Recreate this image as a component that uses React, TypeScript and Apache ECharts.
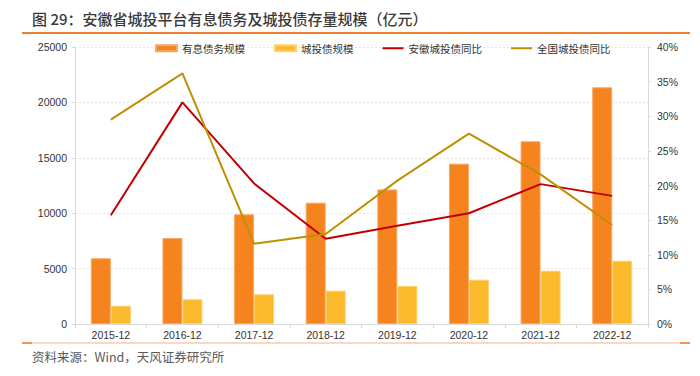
import React, { useEffect, useRef } from "react";
import * as echarts from "echarts";

const categories = ["2015-12", "2016-12", "2017-12", "2018-12", "2019-12", "2020-12", "2021-12", "2022-12"];
const interestDebt = [5930, 7760, 9900, 10950, 12150, 14470, 16490, 21360];
const urbanBond = [1650, 2230, 2680, 3010, 3430, 4000, 4810, 5710];
const anhuiYoY = [15.7, 32.0, 20.3, 12.3, 14.2, 16.0, 20.2, 18.5];
const nationalYoY = [29.5, 36.2, 11.6, 13.0, 20.7, 27.5, 21.6, 14.3];

const titleText = "图 29：安徽省城投平台有息债务及城投债存量规模（亿元）";
const sourceText = "资料来源：Wind，天风证券研究所";
const seriesNames = ["有息债务规模", "城投债规模", "安徽城投债同比", "全国城投债同比"];

const FONT = "'Liberation Sans', Arial, 'Noto Sans CJK SC', sans-serif";
const CJK = "'Noto Sans CJK SC', 'Liberation Sans', sans-serif";
const LINE_ICON = "path://M0,0L21,0L21,0.01Z M0,2L21,2L21,4L0,4Z M0,6L21,6L21,5.99Z";

export default function App() {
  const ref = useRef<HTMLDivElement>(null);
  useEffect(() => {
    if (!ref.current) return;
    const chart = echarts.init(ref.current, undefined, { renderer: "svg" });
    const axisGray = "#D9D9D9";
    chart.setOption({
      animation: false,
      backgroundColor: "#ffffff",
      textStyle: { fontFamily: FONT },
      grid: { left: 75, right: 52, top: 47, bottom: 52 },
      legend: {
        left: 150,
        top: 38,
        itemGap: 29,
        itemWidth: 21,
        itemHeight: 6,
        textStyle: { fontSize: 10.5, color: "#333", fontFamily: CJK },
        data: [
          { name: seriesNames[0], icon: "rect" },
          { name: seriesNames[1], icon: "rect" },
          { name: seriesNames[2], icon: LINE_ICON },
          { name: seriesNames[3], icon: LINE_ICON },
        ],
      },
      xAxis: {
        type: "category",
        data: categories,
        axisLine: { lineStyle: { color: axisGray } },
        axisTick: { show: true, length: 4, lineStyle: { color: axisGray } },
        axisLabel: { color: "#333", fontSize: 10.5, margin: 6, fontFamily: FONT },
      },
      yAxis: [
        {
          type: "value",
          min: 0,
          max: 25000,
          interval: 5000,
          axisLine: { show: true, lineStyle: { color: axisGray } },
          axisTick: { show: true, length: 3, lineStyle: { color: axisGray } },
          axisLabel: {
            color: "#333",
            fontSize: 10.5,
            margin: 8,
            fontFamily: FONT,
            formatter: (v: number) => String(v),
          },
          splitLine: { show: true, lineStyle: { color: "#E3E3E3", type: [2, 2] } },
        },
        {
          type: "value",
          min: 0,
          max: 40,
          interval: 5,
          position: "right",
          axisLine: { show: true, lineStyle: { color: axisGray } },
          axisTick: { show: true, length: 3, lineStyle: { color: axisGray } },
          axisLabel: { color: "#333", fontSize: 10.5, margin: 9, formatter: "{value}%", fontFamily: FONT },
          splitLine: { show: false },
        },
      ],
      series: [
        {
          name: seriesNames[0],
          type: "bar",
          data: interestDebt,
          barWidth: 20,
          barGap: "0%",
          itemStyle: { color: "#F5841F", borderColor: "#F9A864", borderWidth: 1 },
        },
        {
          name: seriesNames[1],
          type: "bar",
          data: urbanBond,
          barWidth: 20,
          barGap: "0%",
          itemStyle: { color: "#FBBA2C", borderColor: "#FDD070", borderWidth: 1 },
        },
        {
          name: seriesNames[2],
          type: "line",
          yAxisIndex: 1,
          data: anhuiYoY,
          symbol: "none",
          lineStyle: { color: "#C00000", width: 2 },
          itemStyle: { color: "#C00000" },
        },
        {
          name: seriesNames[3],
          type: "line",
          yAxisIndex: 1,
          data: nationalYoY,
          symbol: "none",
          lineStyle: { color: "#BF9000", width: 2 },
          itemStyle: { color: "#BF9000" },
        },
      ],
      graphic: [
        {
          type: "text",
          left: 32,
          top: 11,
          style: { text: titleText, fontSize: 15, fontWeight: 500, fill: "#3A3A3A", fontFamily: CJK },
        },
        {
          type: "line",
          shape: { x1: 22, y1: 33, x2: 690, y2: 33 },
          style: { stroke: "#ED7D31", lineWidth: 2 },
        },
        {
          type: "line",
          shape: { x1: 22, y1: 343, x2: 690, y2: 343 },
          style: { stroke: "#F8CBAD", lineWidth: 1.5 },
        },
        {
          type: "line",
          shape: { x1: 22, y1: 343, x2: 32, y2: 343 },
          style: { stroke: "#ED7D31", lineWidth: 1.5 },
        },
        {
          type: "line",
          shape: { x1: 680, y1: 343, x2: 690, y2: 343 },
          style: { stroke: "#ED7D31", lineWidth: 1.5 },
        },
        {
          type: "text",
          left: 32,
          top: 350,
          style: { text: sourceText, fontSize: 12.5, fill: "#595959", fontFamily: CJK },
        },
      ],
    });
    return () => chart.dispose();
  }, []);
  return <div ref={ref} style={{ width: 700, height: 376, position: "absolute", left: 0, top: 0 }} />;
}
